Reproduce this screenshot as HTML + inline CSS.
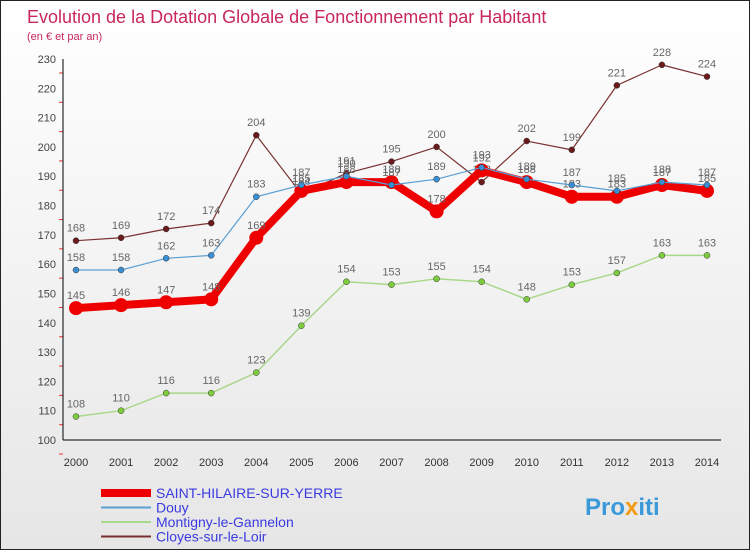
<!DOCTYPE html>
<html><head><meta charset="utf-8"><style>
body{margin:0;width:750px;height:550px;overflow:hidden;font-family:"Liberation Sans",sans-serif}
#wrap{position:relative;width:748px;height:548px;border:1px solid #222;background:linear-gradient(#fff,#e6e6e6)}
</style></head><body>
<div id="wrap">
<svg id="chart" width="748" height="548">
<text x="26" y="22" font-size="18" fill="#c8285a">Evolution de la Dotation Globale de Fonctionnement par Habitant</text>
<text x="26" y="39" font-size="11" fill="#c8285a">(en € et par an)</text>
<g id="grid"></g><g id="axes"></g><g id="series"></g><g id="legend"></g>
<text x="584" y="514" font-size="24" font-weight="bold" fill="#3a9ad9">Pro<tspan fill="#f39c12">x</tspan>iti</text>
</svg></div>
<script>
const years=[2000,2001,2002,2003,2004,2005,2006,2007,2008,2009,2010,2011,2012,2013,2014];
const yTicks=[100,110,120,130,140,150,160,170,180,190,200,210,220,230];
const saint=[145,146,147,148,169,185,188,188,178,192,188,183,183,187,185];
const douy=[158,158,162,163,183,187,190,187,189,193,189,187,185,188,187];
const montigny=[108,110,116,116,123,139,154,153,155,154,148,153,157,163,163];
const cloyes=[168,169,172,174,204,184,191,195,200,188,202,199,221,228,224];
const NS="http://www.w3.org/2000/svg";
const x=i=>75+i*(631/14);
const y=v=>439-(v-100)*(381/130);
function mk(t,a,p){const e=document.createElementNS(NS,t);for(const k in a)e.setAttribute(k,a[k]);p.appendChild(e);return e;}
const axes=document.getElementById('axes');
yTicks.forEach(v=>{
 const l=mk('line',{x1:58,x2:62,y1:y(v)+14,y2:y(v)+14,stroke:'#e33'},axes);
 
 
 const t=mk('text',{x:55,y:y(v)+4,'text-anchor':'end','font-size':11,fill:'#444'},axes);
 t.textContent=v;
 
 
});
mk('line',{x1:62,x2:62,y1:y(230),y2:y(100),stroke:'#000'},axes);
mk('line',{x1:62,x2:720,y1:y(100),y2:y(100),stroke:'#000'},axes);
years.forEach((yr,i)=>{
 const t=mk('text',{x:x(i),y:465,'text-anchor':'middle','font-size':11,fill:'#333'},axes);
 t.textContent=yr;
 
 
});
const ser=document.getElementById('series');
function draw(data,color,w,r,dot,name){
 const g=mk('g',{},ser);
 
 
 mk('polyline',{points:data.map((v,i)=>x(i)+','+y(v)).join(' '),fill:'none',stroke:color,'stroke-width':w,'stroke-linejoin':'round'},g);
 data.forEach((v,i)=>{
  const c=mk('circle',{cx:x(i),cy:y(v),r:r,fill:dot,stroke:color==dot?'none':'#333','stroke-width':0.5},g);
  
  
  const t=mk('text',{x:x(i),y:y(v)-9,'text-anchor':'middle','font-size':11,fill:'#666'},g);
  t.textContent=v;
 });
}
draw(montigny,'#a8d88a',1.5,3,'#7ccc3c','series-montigny');
draw(cloyes,'#7a3030',1.2,3,'#6a1a1a','series-cloyes');
draw(saint,'#ee0000',8,7,'#ee0000','series-saint-hilaire');
draw(douy,'#5a9fd4',1.2,3,'#3a8fd4','series-douy');
const lg=document.getElementById('legend');
const items=[['SAINT-HILAIRE-SUR-YERRE','#ee0000',8],['Douy','#5a9fd4',2],['Montigny-le-Gannelon','#a8d88a',2],['Cloyes-sur-le-Loir','#7a3030',2]];
items.forEach((it,i)=>{
 const yy=492+i*14.5;
 const l=mk('line',{x1:100,x2:150,y1:yy,y2:yy,stroke:it[1],'stroke-width':it[2]},lg);
 
 
 const t=mk('text',{x:155,y:yy+5,'font-size':14,fill:'#3a3ae0'},lg);
 t.textContent=it[0];
 
 
});
</script></body></html>
